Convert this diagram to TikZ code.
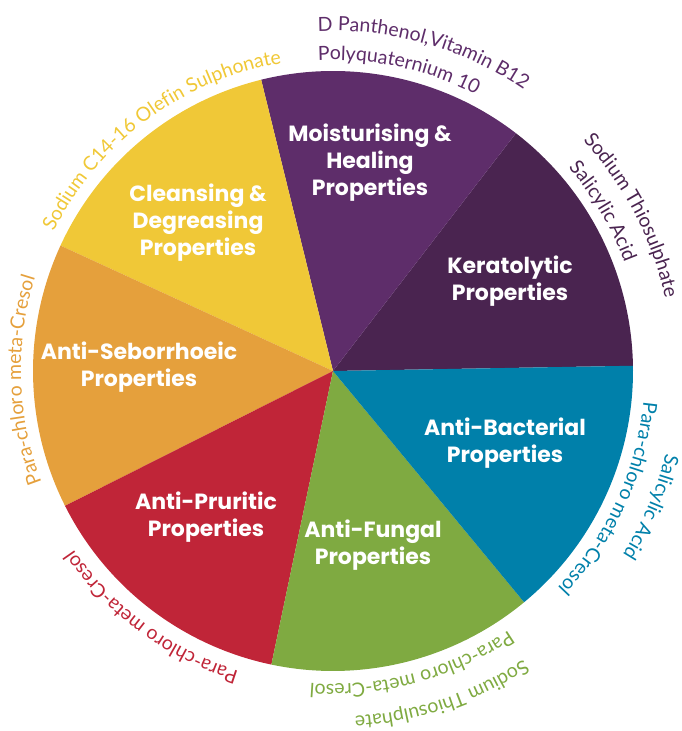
\documentclass[tikz,border=0pt]{standalone}
\usepackage{fontspec}
\setmainfont{Lato}[Ligatures=NoCommon]
\newfontfamily\labelfont{Poppins}[Ligatures=NoCommon]
\usetikzlibrary{decorations.text}
\definecolor{cYel}{HTML}{F0C837}
\definecolor{cOra}{HTML}{E5A03C}
\definecolor{cRed}{HTML}{C02538}
\definecolor{cGrn}{HTML}{7FAA41}
\definecolor{cBlu}{HTML}{0080AA}
\definecolor{cPur}{HTML}{5E2D6A}
\definecolor{cDkp}{HTML}{4A2450}
\tikzset{
  wedgelabel/.style={text=white, font=\labelfont\bfseries\fontsize{22}{27}\selectfont, align=center, inner sep=0pt},
}
\newcommand\arctext[4]{%
  \path[decorate, decoration={text along path, text align=center,
    text={|\color{#1}\fontsize{19.5}{19.5}\selectfont|#4}}]
    (#3+60:#2) arc[start angle=#3+60, end angle=#3-60, radius=#2];
}
\begin{document}
\begin{tikzpicture}[x=1pt,y=1pt]
\useasboundingbox (0,0) rectangle (681,731);
\coordinate (C) at (333,360);
\begin{scope}[shift={(333,360)}]
  \foreach \c [count=\k from 0] in {cDkp,cPur,cYel,cOra,cRed,cGrn,cBlu}{
    \pgfmathsetmacro\aa{1+51.4286*\k}
    \pgfmathsetmacro\ab{1+51.4286*(\k+1)}
    \fill[\c] (0,0) -- (\aa:300) arc[start angle=\aa, end angle=\ab, radius=300] -- cycle;
  }
  \arctext{cYel}{312}{126.5}{Sodium C14-16 Olefin Sulphonate}
  \arctext{cPur}{340}{74.2}{D Panthenol,Vitamin B12}
  \arctext{cPur}{311}{77.7}{Polyquaternium 10}
  \arctext{cDkp}{340}{27.5}{Sodium Thiosulphate}
  \arctext{cDkp}{311}{30.6}{Salicylic Acid}
  \arctext{cBlu}{343}{-23.2}{Salicylic Acid}
  \arctext{cBlu}{312}{-24.8}{Para-chloro meta-Cresol}
  \arctext{cGrn}{313}{-75}{Para-chloro meta-Cresol}
  \arctext{cGrn}{346}{-71.5}{Sodium Thiosulphate}
  \arctext{cRed}{315}{233.6}{Para-chloro meta-Cresol}
  \arctext{cOra}{312}{181.8}{Para-chloro meta-Cresol}
\end{scope}
\node[wedgelabel] (moist) at (370,568) {Moisturising \&\\Healing\\Properties};
\node[wedgelabel] (kera) at (510,450) {Keratolytic\\Properties};
\node[wedgelabel] (bact) at (505,288) {Anti-Bacterial\\Properties};
\node[wedgelabel] (fung) at (373,186) {Anti-Fungal\\Properties};
\node[wedgelabel] (prur) at (206,214) {Anti-Pruritic\\Properties};
\node[wedgelabel] (seb) at (139,364) {Anti-Seborrhoeic\\Properties};
\node[wedgelabel] (clean) at (198,508) {Cleansing \&\\Degreasing\\Properties};
\end{tikzpicture}
\end{document}
